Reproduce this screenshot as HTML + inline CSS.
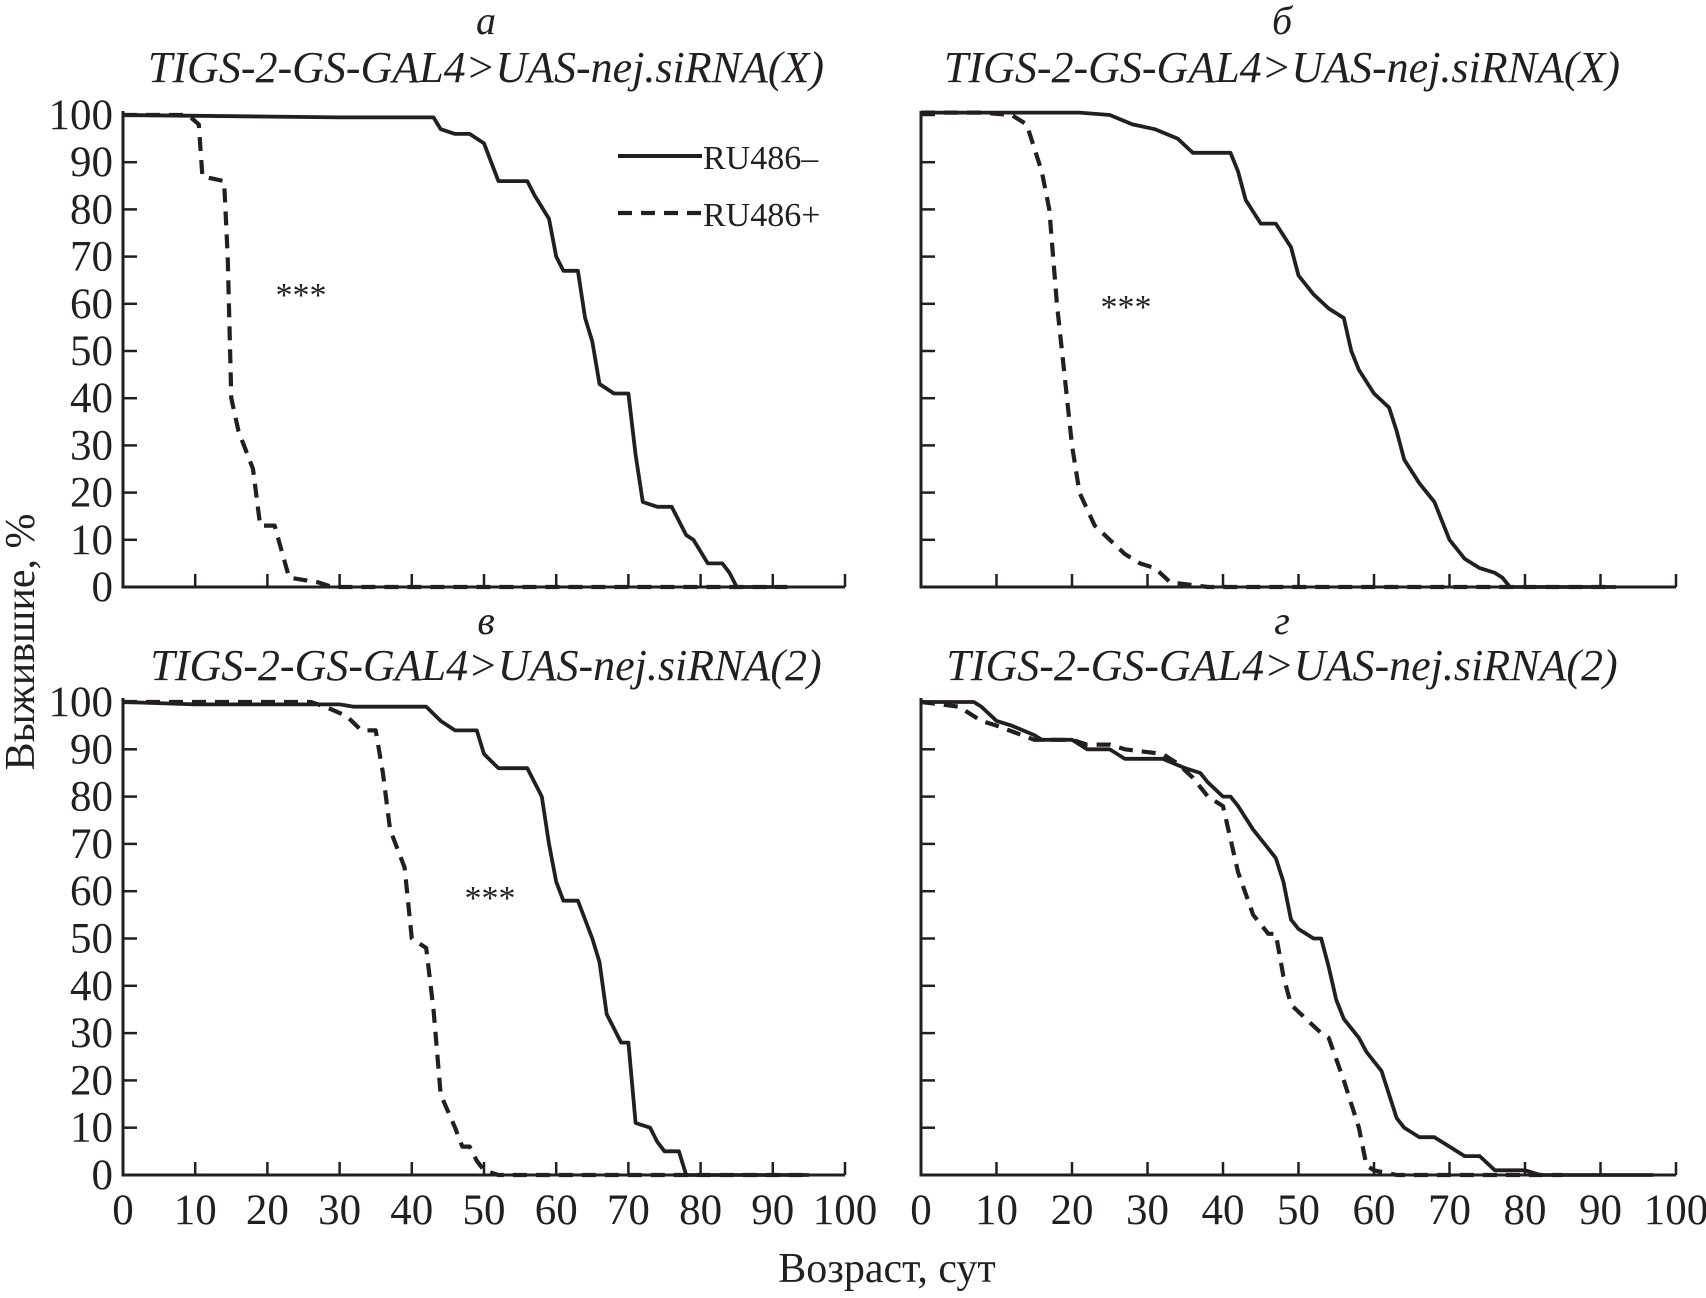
<!DOCTYPE html>
<html><head><meta charset="utf-8"><style>
html,body{margin:0;padding:0;background:#fff;}
svg text{font-family:"Liberation Serif",serif;fill:#231f20;}
</style></head><body>
<svg id="chart" width="1706" height="1293" viewBox="0 0 1706 1293" xmlns="http://www.w3.org/2000/svg"></svg>
<script>
const xTicks=[0,10,20,30,40,50,60,70,80,90,100];
const yTicks=[0,10,20,30,40,50,60,70,80,90,100];
const panelLetters=["а","б","в","г"];
const panelTitles=["TIGS-2-GS-GAL4>UAS-nej.siRNA(X)","TIGS-2-GS-GAL4>UAS-nej.siRNA(X)","TIGS-2-GS-GAL4>UAS-nej.siRNA(2)","TIGS-2-GS-GAL4>UAS-nej.siRNA(2)"];
const aMinusX=[0,30,43,44,46,48,50,51,52,56,57,59,60,61,63,64,65,66,68,70,71,72,74,76,78,79,81,83,84,85,92];
const aMinusY=[100,99.5,99.5,97,96,96,94,90,86,86,83,78,70,67,67,57,52,43,41,41,28,18,17,17,11,10,5,5,3,0,0];
const aPlusX=[0,9,10.5,11,14,14.5,15,16,18,19,21,23,27,29,92];
const aPlusY=[100,100,98,87,86,70,40,33,25,13,13,2,1,0,0];
const bMinusX=[0,21,25,28,31,34,36,41,42,43,45,47,49,50,52,54,56,57,58,60,62,63,64,66,68,70,72,74,76,77,78,92];
const bMinusY=[100.5,100.5,100,98,97,95,92,92,88,82,77,77,72,66,62,59,57,50,46,41,38,33,27,22,18,10,6,4,3,2,0,0];
const bPlusX=[0,8,12,14,16,17,18,19,20,21,23,25,27,29,31,33,38,92];
const bPlusY=[100.5,100.5,100,98,88,80,60,45,30,20,13,10,7,5,4,1,0,0];
const cMinusX=[0,10,30,32,42,44,46,49,50,52,56,58,59,60,61,63,65,66,67,69,70,71,73,74,75,77,78,95];
const cMinusY=[100,99.5,99.5,99,99,96,94,94,89,86,86,80,70,62,58,58,50,45,34,28,28,11,10,7,5,5,0,0];
const cPlusX=[0,26,28,31,33,35,36,37,39,40,42,43,44,46,47,48,49,50,52,95];
const cPlusY=[100,100,99,97,94,94,85,73,65,50,48,35,17,10,6,6,3,1,0,0];
const dMinusX=[0,7,8,10,12,15,16,20,22,25,27,32,35,37,38,40,41,42,44,46,47,48,49,50,52,53,54,55,56,58,59,61,62,63,64,66,68,70,72,74,76,80,82,97];
const dMinusY=[100,100,99,96,95,93,92,92,90,90,88,88,86,85,83,80,80,78,73,69,67,62,54,52,50,50,44,37,33,29,26,22,17,12,10,8,8,6,4,4,1,1,0,0];
const dPlusX=[0,5,7,8,10,15,20,22,25,27,32,34,36,38,40,42,44,46,47,48,49,51,53,54,56,58,59,60,63,85];
const dPlusY=[100,99,97,96,95,92,92,91,91,90,89,87,84,80,78,64,55,51,51,42,36,33,30,29,20,10,2,1,0,0];

const svg=document.getElementById('chart');
const NS="http://www.w3.org/2000/svg";
function mk(tag,attrs,parent){const e=document.createElementNS(NS,tag);for(const k in attrs)e.setAttribute(k,attrs[k]);(parent||svg).appendChild(e);return e;}
const panels=[
 {x0:123,x1:845,y0:587,y1:115,cx:486,letterY:34,titleY:82,series:[[aMinusX,aMinusY],[aPlusX,aPlusY]],star:[301,306],xlabels:false,ylabels:true},
 {x0:921,x1:1676,y0:587,y1:115,cx:1282,letterY:34,titleY:82,series:[[bMinusX,bMinusY],[bPlusX,bPlusY]],star:[1126,318],xlabels:false,ylabels:false},
 {x0:123,x1:845,y0:1175,y1:702,cx:486,letterY:634,titleY:680,series:[[cMinusX,cMinusY],[cPlusX,cPlusY]],star:[490,909],xlabels:true,ylabels:true},
 {x0:921,x1:1676,y0:1175,y1:702,cx:1282,letterY:634,titleY:680,series:[[dMinusX,dMinusY],[dPlusX,dPlusY]],star:null,xlabels:true,ylabels:false}
];
panels.forEach((p,i)=>{
  const g=mk('g',{});
  
  
  const sx=v=>p.x0+(p.x1-p.x0)*v/100;
  const sy=v=>p.y0-(p.y0-p.y1)*v/100;
  const lt=mk('text',{x:p.cx,y:p.letterY,'font-size':40,'font-style':'italic','text-anchor':'middle'},g);
  lt.textContent=panelLetters[i];
  
  
  const tt=mk('text',{x:p.cx,y:p.titleY,'font-size':44,'font-style':'italic','text-anchor':'middle'},g);
  tt.textContent=panelTitles[i];
  
  
  const ax=mk('path',{d:`M${p.x0},${p.y1-4} L${p.x0},${p.y0} L${p.x1},${p.y0}`,fill:'none',stroke:'#231f20','stroke-width':3},g);
  
  
  xTicks.forEach(t=>{
    if(t>0){const tk=mk('line',{x1:sx(t),x2:sx(t),y1:p.y0,y2:p.y0-13,stroke:'#231f20','stroke-width':2.5},g);
    
    }
    if(p.xlabels){const tl=mk('text',{x:sx(t),y:p.y0+49,'font-size':43,'text-anchor':'middle'},g);tl.textContent=t;
    
    }
  });
  yTicks.forEach(t=>{
    if(t>0){const tk=mk('line',{x1:p.x0,x2:p.x0+14,y1:sy(t),y2:sy(t),stroke:'#231f20','stroke-width':2.5},g);
    
    }
    if(p.ylabels){const tl=mk('text',{x:p.x0-10,y:sy(t)+14,'font-size':43,'text-anchor':'end'},g);tl.textContent=t;
    
    }
  });
  p.series.forEach((s,k)=>{
    const pts=s[0].map((x,j)=>sx(x).toFixed(1)+','+sy(s[1][j]).toFixed(1)).join(' ');
    const pl=mk('polyline',{points:pts,fill:'none',stroke:'#231f20','stroke-width':k==0?3.8:4.2,'stroke-linejoin':'round','stroke-dasharray':k==0?'none':'14 9'},g);
    
    
  });
  if(p.star){const st=mk('text',{x:p.star[0],y:p.star[1],'font-size':34,'text-anchor':'middle'},g);st.textContent='***';
    
    }
});
const lg=mk('g',{});


const l1=mk('line',{x1:618,x2:702,y1:156,y2:156,stroke:'#231f20','stroke-width':4},lg);


const t1=mk('text',{x:703,y:169,'font-size':34},lg);t1.textContent='RU486–';


const l2=mk('line',{x1:618,x2:702,y1:213,y2:213,stroke:'#231f20','stroke-width':4.2,'stroke-dasharray':'14 9'},lg);


const t2=mk('text',{x:703,y:226,'font-size':34},lg);t2.textContent='RU486+';


const yt=mk('text',{x:0,y:0,'font-size':42,'text-anchor':'middle',transform:'translate(34,642) rotate(-90)'});
yt.textContent='Выжившие, %';


const xt=mk('text',{x:887,y:1282,'font-size':42,'text-anchor':'middle'});
xt.textContent='Возраст, сут';


</script>
</body></html>
